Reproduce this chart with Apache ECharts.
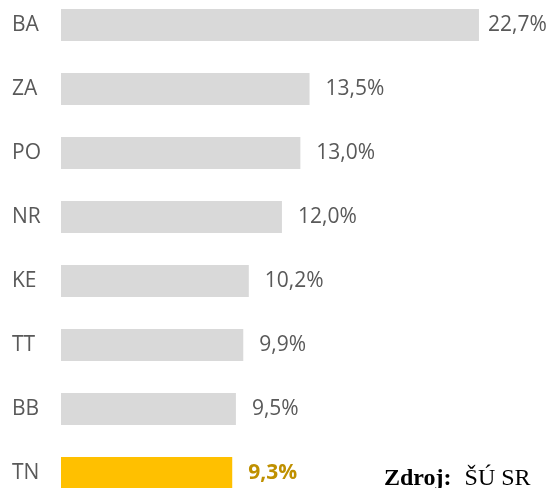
<!DOCTYPE html>
<html>
<head>
    <meta charset="utf-8">
    <title>Kraje</title>
    <script src="https://cdn.jsdelivr.net/npm/echarts@6/dist/echarts.min.js"></script>
    <style>
        html, body { margin: 0; padding: 0; background: #fff; }
        #main { width: 551px; height: 488px; }
    </style>
</head>
<body>
<div id="main"></div>
<script>
    // kraje a podiel (%)
    var kraje = ['BA', 'ZA', 'PO', 'NR', 'KE', 'TT', 'BB', 'TN'];
    var hodnoty = [22.7, 13.5, 13.0, 12.0, 10.2, 9.9, 9.5, 9.3];
    var zvyrazneny = 'TN';

    var chart = echarts.init(document.getElementById('main'));

    function fmt(v) {
        return v.toFixed(1).replace('.', ',') + '%';
    }

    var data = hodnoty.map(function (v, i) {
        var hl = kraje[i] === zvyrazneny;
        return {
            value: v,
            itemStyle: { color: hl ? '#FFC000' : '#D9D9D9' },
            label: {
                color: hl ? '#BF9000' : '#595959',
                fontWeight: hl ? 'bold' : 'normal',
                distance: i === 0 ? 9 : 16
            }
        };
    });

    var option = {
        animation: false,
        grid: { left: 61, top: -7, height: 512, width: 460.3, outerBoundsMode: 'none' },
        xAxis: {
            type: 'value',
            min: 0,
            max: 25,
            show: false
        },
        yAxis: {
            type: 'category',
            data: kraje,
            inverse: true,
            axisLine: { show: false },
            axisTick: { show: false },
            axisLabel: {
                align: 'left',
                margin: 49,
                color: '#595959',
                fontFamily: 'Open Sans',
                fontSize: 21
            }
        },
        series: [{
            type: 'bar',
            data: data,
            barWidth: 32,
            label: {
                show: true,
                position: 'right',
                fontFamily: 'Open Sans',
                fontSize: 21,
                formatter: function (p) { return fmt(p.value); }
            }
        }],
        graphic: [{
            type: 'text',
            left: 384,
            top: 467,
            style: {
                text: '{b|Zdroj:}{n|ŠÚ SR}',
                rich: {
                    b: { fontFamily: 'Liberation Serif', fontWeight: 'bold', fontSize: 24, fill: '#000', padding: [0, 13, 0, 0] },
                    n: { fontFamily: 'Liberation Serif', fontSize: 24, fill: '#000' }
                }
            }
        }]
    };

    chart.setOption(option);
</script>
</body>
</html>
